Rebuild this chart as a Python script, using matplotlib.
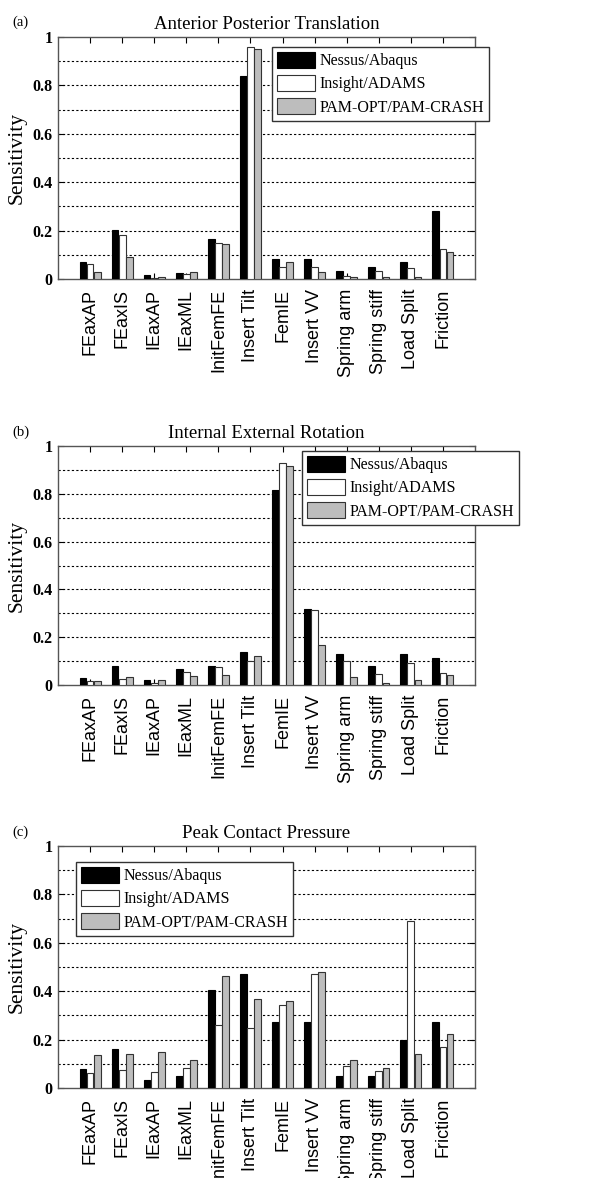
import matplotlib
matplotlib.use("Agg")
import matplotlib.pyplot as plt
import numpy as np

params = ["FEaxAP", "FEaxIS", "IEaxAP", "IEaxML", "InitFemFE", "Insert Tilt",
          "FemIE", "Insert VV", "Spring arm", "Spring stiff", "Load Split", "Friction"]
series = ["Nessus/Abaqus", "Insight/ADAMS", "PAM-OPT/PAM-CRASH"]

# (a) anterior posterior translation
ap_nessus = [0.070, 0.204, 0.017, 0.023, 0.164, 0.840, 0.083, 0.083, 0.032, 0.051, 0.070, 0.281]
ap_insight = [0.062, 0.183, 0.005, 0.019, 0.149, 0.959, 0.051, 0.051, 0.011, 0.032, 0.044, 0.124]
ap_pam = [0.028, 0.091, 0.010, 0.027, 0.145, 0.949, 0.070, 0.028, 0.010, 0.010, 0.010, 0.112]

# (b) internal external rotation
ie_nessus = [0.030, 0.081, 0.023, 0.069, 0.081, 0.139, 0.814, 0.320, 0.128, 0.079, 0.128, 0.112]
ie_insight = [0.017, 0.026, 0.008, 0.055, 0.077, 0.099, 0.927, 0.312, 0.100, 0.047, 0.094, 0.051]
ie_pam = [0.015, 0.034, 0.019, 0.039, 0.041, 0.123, 0.918, 0.167, 0.032, 0.008, 0.021, 0.040]

# (c) peak contact pressure
cp_nessus = [0.079, 0.163, 0.033, 0.048, 0.406, 0.472, 0.271, 0.271, 0.048, 0.048, 0.200, 0.271]
cp_insight = [0.064, 0.075, 0.068, 0.083, 0.260, 0.249, 0.344, 0.472, 0.090, 0.071, 0.690, 0.170]
cp_pam = [0.137, 0.140, 0.148, 0.117, 0.463, 0.367, 0.359, 0.480, 0.117, 0.083, 0.140, 0.222]

panels = [
    ("(a)", "Anterior Posterior Translation", [ap_nessus, ap_insight, ap_pam]),
    ("(b)", "Internal External Rotation", [ie_nessus, ie_insight, ie_pam]),
    ("(c)", "Peak Contact Pressure", [cp_nessus, cp_insight, cp_pam]),
]

W, H = 615, 1178
fig = plt.figure(figsize=(W / 100, H / 100), dpi=100)

serif = "Liberation Serif"
sans = "Liberation Sans"

# axes boxes in pixels: (left, top, right, bottom)
boxes = [(58, 37, 475, 279), (58, 446, 475, 685), (58, 846, 475, 1088)]
legend_pos = [(272, 47), (302, 451), (76, 862)]
label_pos = [(12, 22), (12, 432), (12, 832)]

faces = ["black", "white", "#bdbdbd"]
edges = ["black", "#333333", "#333333"]
x = np.arange(1, len(params) + 1)
bw = 0.222

for (tag, title, data), (l, t, r, b), (lx, ly), (px, py) in zip(panels, boxes, legend_pos, label_pos):
    ax = fig.add_axes([l / W, 1 - b / H, (r - l) / W, (b - t) / H])
    for i, vals in enumerate(data):
        ax.bar(x + (i - 1) * bw, vals, width=0.21, color=faces[i], edgecolor=edges[i],
               linewidth=0.8, label=series[i], zorder=3)
    ax.set_xlim(0, 13)
    ax.set_ylim(0, 1)
    ax.set_yticks(np.arange(0, 1.01, 0.2))
    ax.set_yticklabels(["0", "0.2", "0.4", "0.6", "0.8", "1"],
                       family=serif, fontweight="bold", fontsize=11.5)
    for g in np.arange(0.1, 0.95, 0.1):
        ax.axhline(g, color="black", linestyle=(0, (2, 2)), linewidth=0.8, zorder=1)
    ax.set_xticks(x)
    ax.set_xticklabels(params, rotation=90, family=sans, fontsize=13)
    ax.tick_params(axis="both", direction="in", top=True, right=True, length=4, width=0.8)
    ax.tick_params(axis="x", pad=7)
    ax.tick_params(axis="y", pad=4)
    for s in ax.spines.values():
        s.set_color("#555555")
        s.set_linewidth(1.0)
    ax.set_ylabel("Sensitivity", family=serif, fontsize=15.5, labelpad=4)
    ax.set_title(title, family=serif, fontsize=13.5, pad=6)
    fig.text(px / W, 1 - py / H, tag, family=serif, fontsize=10.5, va="center", ha="left")
    leg = ax.legend(loc="upper left", bbox_to_anchor=(lx / W, 1 - ly / H),
                    bbox_transform=fig.transFigure, borderaxespad=0,
                    prop={"family": serif, "size": 11.5}, fancybox=False,
                    edgecolor="#333333", framealpha=1, handlelength=2.4,
                    handleheight=1.15, labelspacing=0.375, handletextpad=0.25,
                    borderpad=0.3)
    leg.get_frame().set_linewidth(1.0)
    leg.set_zorder(5)

fig.savefig("out.png", dpi=100, facecolor="white")
